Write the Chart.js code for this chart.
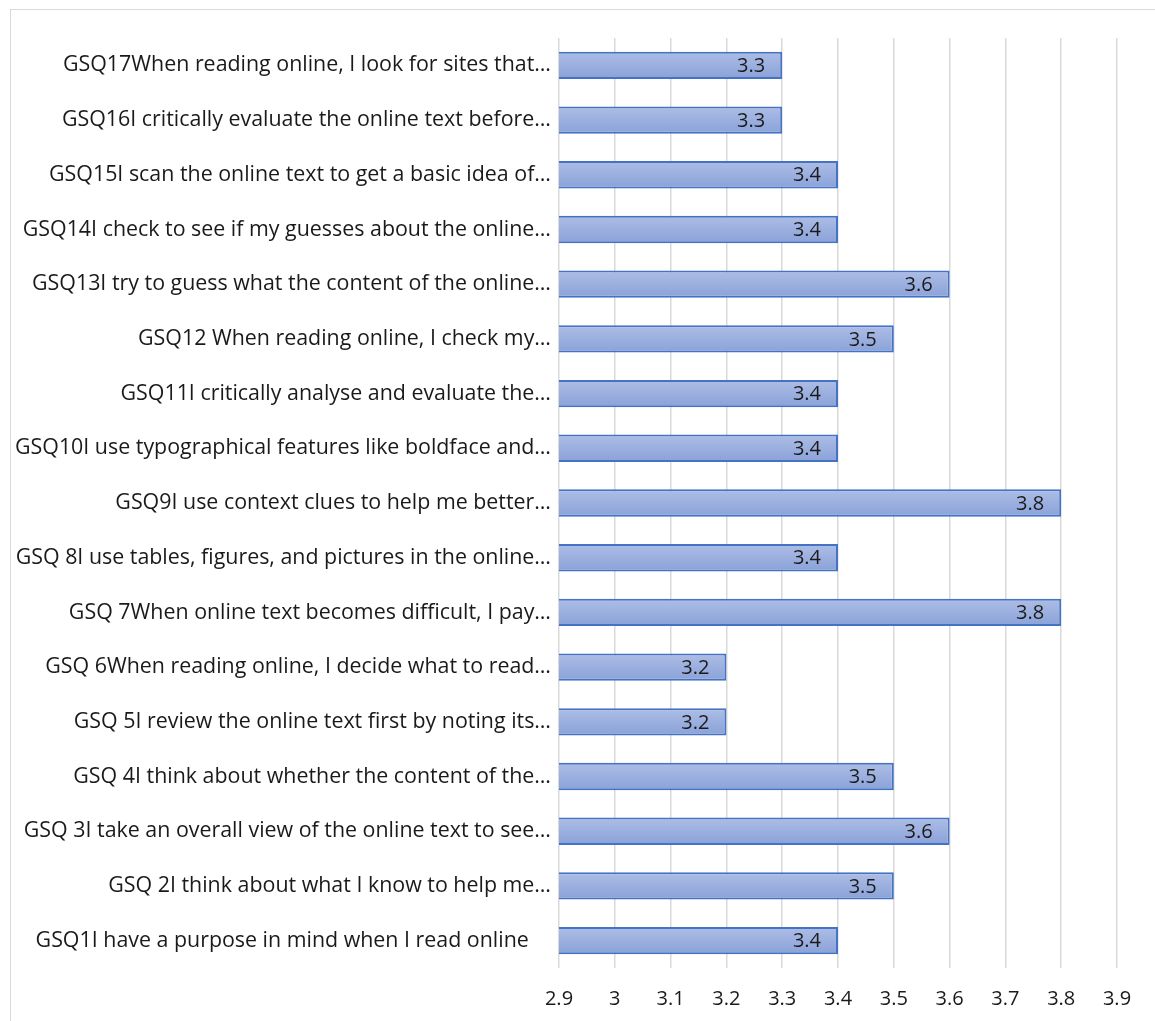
<!DOCTYPE html>
<html>
<head>
<meta charset="utf-8">
<script src="https://cdn.jsdelivr.net/npm/chart.js@4/dist/chart.umd.min.js"></script>
<style>
  html, body { margin: 0; padding: 0; background: #fff; }
  #frame {
    position: absolute; left: 10px; top: 9px; width: 1200px; height: 1100px;
    border-top: 1.5px solid #d9d9d9; border-left: 1.5px solid #d9d9d9;
  }
  #wrap { position: absolute; left: 0; top: 0; width: 1155px; height: 1021px; }
</style>
</head>
<body>
<div id="frame"></div>
<div id="wrap"><canvas id="chart" width="1155" height="1021"></canvas></div>
<script>
// Survey items, top to bottom
const categories = [
  "GSQ17When reading online, I look for sites that…",
  "GSQ16I critically evaluate the online text before…",
  "GSQ15I scan the online text to get a basic idea of…",
  "GSQ14I check to see if my guesses about the online…",
  "GSQ13I try to guess what the content of the online…",
  "GSQ12 When reading online, I check my…",
  "GSQ11I critically analyse and evaluate the…",
  "GSQ10I use typographical features like boldface and…",
  "GSQ9I use context clues to help me better…",
  "GSQ 8I use tables, figures, and pictures in the online…",
  "GSQ 7When online text becomes difficult, I pay…",
  "GSQ 6When reading online, I decide what to read…",
  "GSQ 5I review the online text first by noting its…",
  "GSQ 4I think about whether the content of the…",
  "GSQ 3I take an overall view of the online text to see…",
  "GSQ 2I think about what I know to help me…",
  "GSQ1I have a purpose in mind when I read online    "
];

// Mean scores per item
const meanScores = [3.3, 3.3, 3.4, 3.4, 3.6, 3.5, 3.4, 3.4, 3.8, 3.4, 3.8, 3.2, 3.2, 3.5, 3.6, 3.5, 3.4];

// Value axis tick labels
const tickLabels = ["2.9", "3", "3.1", "3.2", "3.3", "3.4", "3.5", "3.6", "3.7", "3.8", "3.9"];

const FONT = "Open Sans";
const FONT_SIZE = 20;
const LABEL_SIZE = 21.4;
const TEXT_COLOR = "#1a1a1a";

// Vertical light-blue gradient for each bar
function barGradient(ctx) {
  const chart = ctx.chart;
  const y = chart.scales.y;
  if (!y || ctx.dataIndex === undefined) return "#97acde";
  const band = y.height / categories.length;
  const half = band * 0.25;
  const c = y.getPixelForValue(ctx.dataIndex);
  if (!isFinite(c) || !isFinite(half) || half <= 0) return "#97acde";
  const g = chart.ctx.createLinearGradient(0, c - half, 0, c + half);
  g.addColorStop(0, "#adbde5");
  g.addColorStop(1, "#8aa2d9");
  return g;
}

// Value labels drawn just inside the bar end
const valueLabels = {
  id: "valueLabels",
  afterDatasetsDraw(chart) {
    const c = chart.ctx;
    const meta = chart.getDatasetMeta(0);
    c.save();
    c.font = FONT_SIZE + "px '" + FONT + "'";
    c.fillStyle = TEXT_COLOR;
    c.textAlign = "right";
    c.textBaseline = "middle";
    meta.data.forEach((el, i) => {
      c.fillText(meanScores[i].toFixed(1), el.x - 17, el.y + 1);
    });
    c.restore();
  }
};

new Chart(document.getElementById("chart"), {
  type: "bar",
  data: {
    labels: categories,
    datasets: [{
      data: meanScores,
      backgroundColor: barGradient,
      borderColor: "#4472c4",
      borderWidth: 2,
      borderSkipped: false,
      barPercentage: 0.5,
      categoryPercentage: 1.0
    }]
  },
  options: {
    indexAxis: "y",
    responsive: false,
    animation: false,
    events: [],
    layout: { padding: { top: 38, right: 38, left: 0, bottom: 0 } },
    plugins: { legend: { display: false }, tooltip: { enabled: false } },
    scales: {
      x: {
        type: "linear",
        min: 2.9,
        max: 3.9,
        afterFit(scale) { scale.height = 53; },
        afterBuildTicks(scale) {
          scale.ticks = tickLabels.map(t => ({ value: parseFloat(t) }));
        },
        ticks: {
          callback: (v, i) => tickLabels[i],
          font: { family: FONT, size: FONT_SIZE },
          color: TEXT_COLOR,
          padding: 19,
          maxRotation: 0,
          autoSkip: false
        },
        grid: { color: "#d9d9d9", lineWidth: 1.5, drawTicks: false },
        border: { display: false }
      },
      y: {
        afterFit(scale) { scale.width = 559; },
        ticks: {
          font: { family: FONT, size: LABEL_SIZE },
          color: TEXT_COLOR,
          padding: 8,
          autoSkip: false
        },
        grid: { display: false, drawTicks: false },
        border: { display: false }
      }
    }
  },
  plugins: [valueLabels]
});
</script>
</body>
</html>
